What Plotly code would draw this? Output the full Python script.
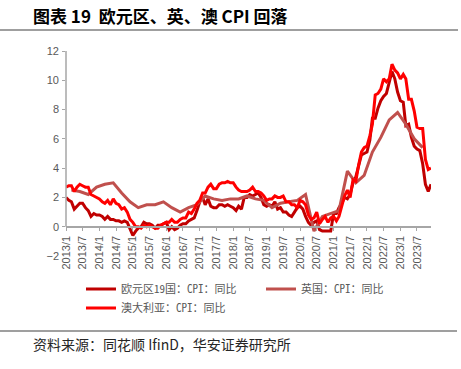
import pandas as pd
import plotly.graph_objects as go

# ---- data ----
months = pd.date_range("2013-01-01", "2023-12-01", freq="MS")
quarters = pd.date_range("2013-03-01", "2023-09-01", freq="3MS")

ez_cpi = [
    2.0, 1.8, 1.7, 1.2, 1.4, 1.6, 1.6, 1.3, 1.1, 0.7, 0.9, 0.8,
    0.8, 0.7, 0.5, 0.7, 0.5, 0.5, 0.4, 0.4, 0.3, 0.4, 0.3, -0.2,
    -0.6, -0.3, -0.1, 0.0, 0.3, 0.2, 0.2, 0.1, -0.1, 0.1, 0.1, 0.2,
    0.3, -0.2, 0.0, -0.2, -0.1, 0.1, 0.2, 0.2, 0.4, 0.5, 0.6, 1.1,
    1.7, 2.0, 1.5, 1.9, 1.4, 1.3, 1.3, 1.5, 1.5, 1.4, 1.5, 1.4,
    1.3, 1.1, 1.4, 1.2, 2.0, 2.0, 2.2, 2.1, 2.2, 2.3, 2.0, 1.5,
    1.4, 1.5, 1.4, 1.7, 1.2, 1.3, 1.0, 1.0, 0.8, 0.7, 1.0, 1.3,
    1.4, 1.2, 0.7, 0.3, 0.1, 0.3, 0.4, -0.2, -0.3, -0.3, -0.3, -0.3,
    0.9, 0.9, 1.3, 1.6, 2.0, 1.9, 2.2, 3.0, 3.4, 4.1, 4.9, 5.0,
    5.1, 5.9, 7.4, 7.4, 8.1, 8.6, 8.9, 9.1, 9.9, 10.6, 10.1, 9.2,
    8.6, 8.5, 6.9, 7.0, 6.1, 5.5, 5.3, 5.2, 4.3, 2.9, 2.4, 2.9,
]

# pale line (legend: 英国) - quarterly series as drawn
pale_cpi = [
    2.5, 2.4, 2.2, 2.7,
    2.9, 3.0, 2.3, 1.7,
    1.3, 1.5, 1.5, 1.7,
    1.3, 1.0, 1.3, 1.5,
    2.1, 1.9, 1.8, 1.9,
    1.9, 2.1, 1.9, 1.8,
    1.3, 1.6, 1.7, 1.8,
    2.2, -0.3, 0.7, 0.9,
    1.1, 3.8, 3.0, 3.5,
    5.1, 6.1, 7.3, 7.8,
    7.0, 6.0, 5.4,
]

# bright line (legend: 澳大利亚) - monthly series as drawn
bright_cpi = [
    2.7, 2.8, 2.8, 2.4, 2.7, 2.9, 2.8, 2.7, 2.7, 2.2, 2.1, 2.0,
    1.9, 1.7, 1.6, 1.8, 1.5, 1.9, 1.6, 1.5, 1.2, 1.3, 1.0, 0.5,
    0.3, 0.0, 0.0, -0.1, 0.1, 0.0, 0.1, 0.0, -0.1, -0.1, 0.1, 0.2,
    0.3, 0.3, 0.5, 0.3, 0.3, 0.5, 0.6, 0.6, 1.0, 0.9, 1.2, 1.6,
    1.8, 2.3, 2.3, 2.7, 2.9, 2.6, 2.6, 2.9, 3.0, 3.0, 3.1, 3.0,
    3.0, 2.7, 2.5, 2.4, 2.4, 2.4, 2.5, 2.7, 2.4, 2.4, 2.3, 2.1,
    1.8, 1.9, 1.9, 2.1, 2.0, 2.0, 2.1, 1.7, 1.7, 1.5, 1.5, 1.3,
    1.8, 1.7, 1.5, 0.8, 0.5, 0.6, 1.0, 0.2, 0.5, 0.7, 0.3, 0.6,
    0.7, 0.4, 0.7, 1.5, 2.1, 2.5, 2.0, 3.2, 3.1, 4.2, 5.1, 5.4,
    5.5, 6.2, 7.0, 9.0, 9.1, 9.4, 10.1, 9.9, 10.1, 11.1, 10.7, 10.5,
    10.1, 10.4, 10.1, 8.7, 8.7, 7.9, 6.8, 6.7, 6.7, 4.6, 3.9, 4.0,
]

tick_dates = pd.date_range("2013-01-01", "2023-07-01", freq="6MS")
tick_labels = [f"{d.year}/{d.month}" for d in tick_dates]
y_ticks = [-2, 0, 2, 4, 6, 8, 10, 12]

names = ["欧元区19国：CPI：同比", "英国：CPI：同比", "澳大利亚：CPI：同比"]
colors = ["#C00000", "#C0504D", "#FF0000"]

# ---- figure ----
W, H = 461, 369
L, R, T, B = 66, 30, 51, 113
pw, ph = W - L - R, H - T - B

def px(xp):
    return (xp - L) / pw

def py(yp):
    return (H - B - yp) / ph

fig = go.Figure()
fig.add_trace(go.Scatter(x=months, y=ez_cpi, mode="lines", name=names[0],
                         line=dict(color=colors[0], width=3)))
fig.add_trace(go.Scatter(x=quarters, y=pale_cpi, mode="lines", name=names[1],
                         line=dict(color=colors[1], width=3)))
fig.add_trace(go.Scatter(x=months, y=bright_cpi, mode="lines", name=names[2],
                         line=dict(color=colors[2], width=3)))
# invisible trace for tick marks on second y axis
fig.add_trace(go.Scatter(x=[months[0]], y=[0], yaxis="y2", mode="markers",
                         marker=dict(opacity=0), showlegend=False, hoverinfo="skip"))

fig.update_layout(
    width=W, height=H,
    margin=dict(l=L, r=R, t=T, b=B),
    paper_bgcolor="white", plot_bgcolor="white",
    xaxis=dict(
        range=[months[0], months[-1]],
        tickvals=tick_dates, ticktext=tick_labels, tickangle=-90,
        showline=True, linecolor="#A6A6A6", linewidth=1.5,
        ticks="outside", ticklen=4, tickcolor="#A6A6A6",
        showgrid=False, zeroline=False, automargin=False,
        anchor="free", position=2 / 14,
        tickfont=dict(family="Liberation Sans", size=11, color="#595959"),
    ),
    yaxis=dict(
        range=[-2, 12], tickvals=y_ticks, showgrid=False, zeroline=False,
        showline=False, ticks="", ticklabelstandoff=6, automargin=False,
        tickfont=dict(family="Liberation Sans", size=11, color="#595959"),
    ),
    yaxis2=dict(
        range=[-2, 12], overlaying="y", side="left", tickvals=y_ticks[1:],
        showticklabels=False, ticks="outside", ticklen=3, tickcolor="#A6A6A6",
        showgrid=False, zeroline=False, showline=False, automargin=False,
    ),
    legend=dict(orientation="h", x=px(81), y=py(298.5), xanchor="left",
                yanchor="middle", bgcolor="rgba(0,0,0,0)", traceorder="normal",
                entrywidth=135, entrywidthmode="pixels",
                font=dict(family="Noto Sans Mono CJK SC, Noto Sans CJK SC",
                          size=11, color="#595959")),
    shapes=[
        dict(type="line", xref="paper", yref="y", x0=0, x1=0, y0=0, y1=12,
             line=dict(color="#A6A6A6", width=1.5)),
        dict(type="line", xref="paper", yref="paper", x0=px(0), x1=px(458),
             y0=py(30), y1=py(30), line=dict(color="#404040", width=1.2)),
        dict(type="line", xref="paper", yref="paper", x0=px(0), x1=px(457),
             y0=py(331), y1=py(331), line=dict(color="#404040", width=1.2)),
    ],
    annotations=[
        dict(text="<b>图表 19  欧元区、英、澳 CPI 回落</b>", xref="paper", yref="paper",
             x=px(31), y=py(15), xanchor="left", yanchor="middle", showarrow=False,
             font=dict(family="Noto Sans CJK SC", size=17, color="#000000")),
        dict(text="资料来源：同花顺 IfinD，华安证券研究所", xref="paper", yref="paper",
             x=px(31), y=py(344), xanchor="left", yanchor="middle", showarrow=False,
             font=dict(family="Noto Sans CJK SC", size=14, color="#262626")),
    ],
)

fig.write_html("out.html", config={"displayModeBar": False},
               post_script="document.body.style.margin='0';")
